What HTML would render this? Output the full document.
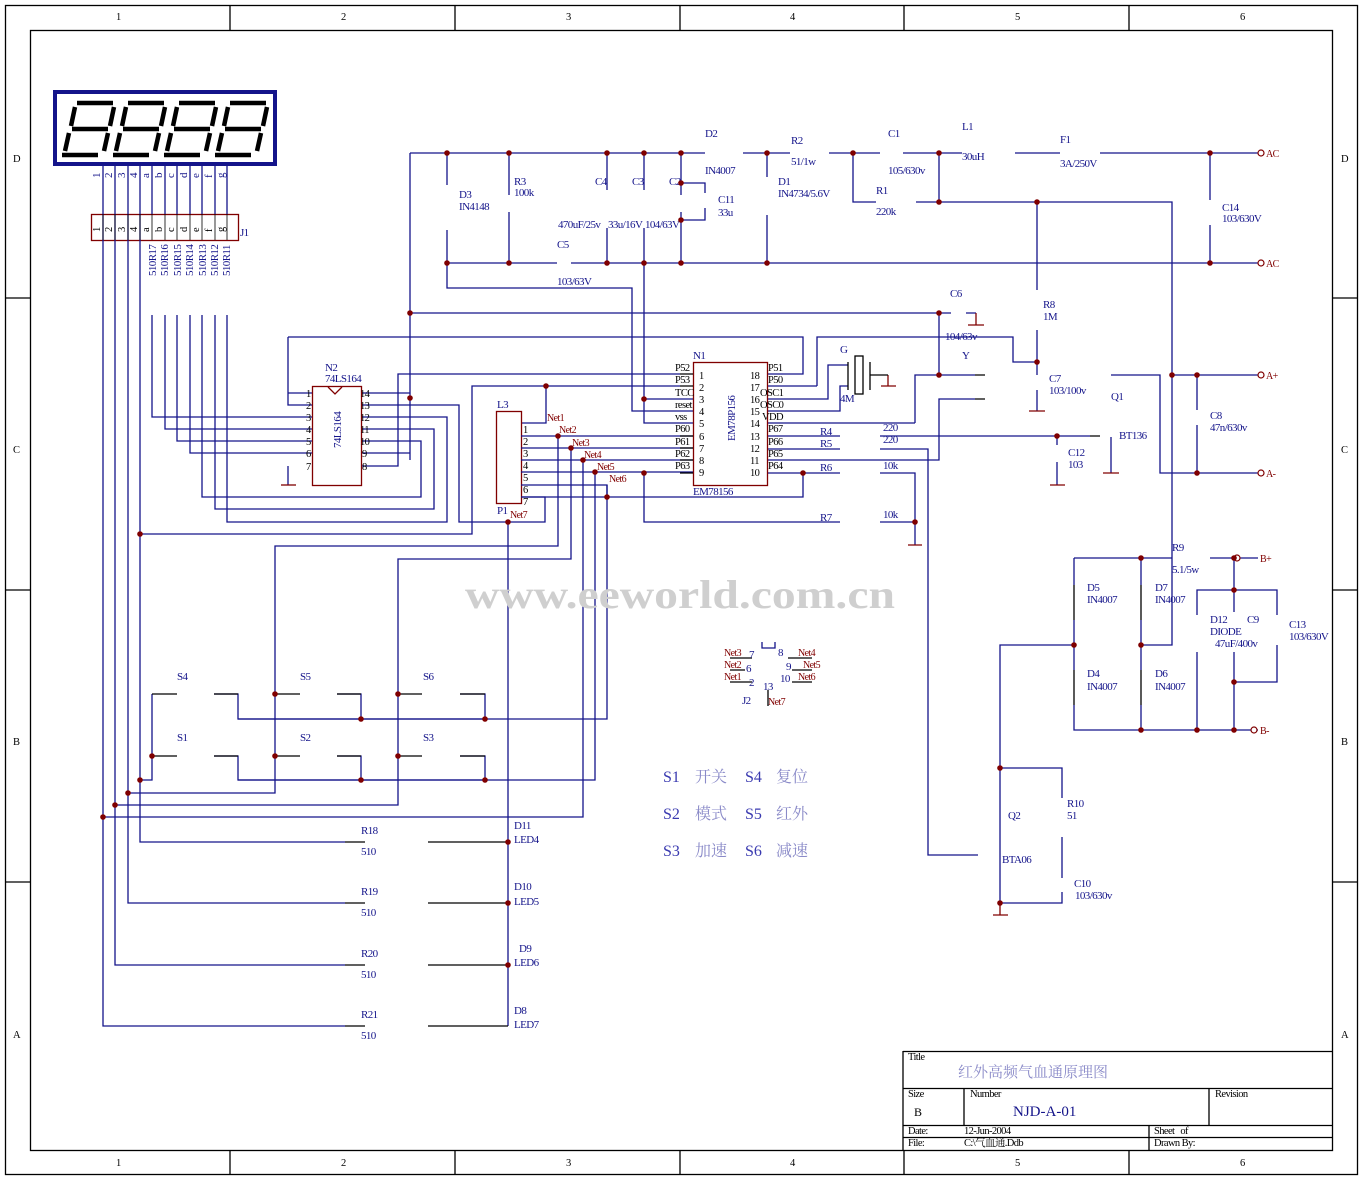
<!DOCTYPE html>
<html><head><meta charset="utf-8"><style>
html,body{margin:0;padding:0;background:#fff;}
svg{display:block;font-family:"Liberation Serif","Noto Serif CJK SC",serif;}
.b{stroke:#14148a;fill:none;stroke-width:1.3}
.k{stroke:#000;fill:none;stroke-width:1.3}
.r{stroke:#800000;fill:none;stroke-width:1.3}
.t{fill:#14148a;font-size:11px;letter-spacing:-0.6px}
.tr{fill:#800000;font-size:10px;letter-spacing:-0.6px}
.tk{fill:#000;font-size:10.5px;letter-spacing:-0.6px}
</style></head><body>
<svg width="1363" height="1183" viewBox="0 0 1363 1183" xmlns="http://www.w3.org/2000/svg">
<!-- frame -->
<rect x="5.5" y="5.5" width="1352" height="1169" class="k"/>
<rect x="30.5" y="30.5" width="1302" height="1120" class="k"/>
<g class="k">
<path d="M230 5V30M455 5V30M680 5V30M904 5V30M1129 5V30M230 1150V1175M455 1150V1175M680 1150V1175M904 1150V1175M1129 1150V1175"/>
<path d="M5 298H30M5 590H30M5 882H30M1332 298H1357M1332 590H1357M1332 882H1357"/>
</g>
<g class="tk" font-size="11">
<text x="116" y="20">1</text><text x="341" y="20">2</text><text x="566" y="20">3</text><text x="790" y="20">4</text><text x="1015" y="20">5</text><text x="1240" y="20">6</text>
<text x="116" y="1166">1</text><text x="341" y="1166">2</text><text x="566" y="1166">3</text><text x="790" y="1166">4</text><text x="1015" y="1166">5</text><text x="1240" y="1166">6</text>
<text x="13" y="162">D</text><text x="13" y="453">C</text><text x="13" y="745">B</text><text x="13" y="1038">A</text>
<text x="1341" y="162">D</text><text x="1341" y="453">C</text><text x="1341" y="745">B</text><text x="1341" y="1038">A</text>
</g>

<!-- display -->
<rect x="55" y="92" width="220" height="72" fill="none" stroke="#14148a" stroke-width="4"/>
<g stroke="#000" stroke-width="4.5" fill="none" stroke-linecap="butt">
<g id="dg"><path d="M77 103H113M72 129H108M62 155H98M75 107L71 126M114 107L110 126M69 133L65 151M108 133L104 151"/></g>
<use href="#dg" x="51"/><use href="#dg" x="102"/><use href="#dg" x="153"/>
</g>
<!-- J1 -->
<rect x="91.5" y="214.5" width="147" height="26" class="r"/>
<g class="b">
<path d="M103 166V1026H345M115 166V965H345M128 166V903H345M140 166V842H345"/>
<path d="M152 166V214M165 166V214M177 166V214M190 166V214M202 166V214M215 166V214M227 166V214"/>
<path d="M152 315V417H312M165 315V429H312M177 315V441H312M190 315V453H312"/>
<path d="M202 315V497H421V441H361M215 315V509H434V429H361M227 315V522H447V417H361"/>
<path d="M361 405H459V522H545V497H521"/>
<path d="M361 393H410M361 453H410M410 153V460"/>
<path d="M361 466H398V374H680"/>
<path d="M140 534H472V386H680M546 386V423H521"/>
<path d="M288 337V405H312M288 393H312M288 337H803V374H767"/>
<path d="M288 466V485"/>
</g>
<path d="M281 485H296" class="r"/>
<g class="t" font-size="9">
<g transform="translate(100,178) rotate(-90)"><text>1</text></g>
<g transform="translate(112,178) rotate(-90)"><text>2</text></g>
<g transform="translate(125,178) rotate(-90)"><text>3</text></g>
<g transform="translate(137,178) rotate(-90)"><text>4</text></g>
<g transform="translate(149,178) rotate(-90)"><text>a</text></g>
<g transform="translate(162,178) rotate(-90)"><text>b</text></g>
<g transform="translate(174,178) rotate(-90)"><text>c</text></g>
<g transform="translate(187,178) rotate(-90)"><text>d</text></g>
<g transform="translate(199,178) rotate(-90)"><text>e</text></g>
<g transform="translate(212,178) rotate(-90)"><text>f</text></g>
<g transform="translate(224,178) rotate(-90)"><text>g</text></g>
<g transform="translate(156,276) rotate(-90)"><text>510R17</text></g>
<g transform="translate(168,276) rotate(-90)"><text>510R16</text></g>
<g transform="translate(181,276) rotate(-90)"><text>510R15</text></g>
<g transform="translate(193,276) rotate(-90)"><text>510R14</text></g>
<g transform="translate(206,276) rotate(-90)"><text>510R13</text></g>
<g transform="translate(218,276) rotate(-90)"><text>510R12</text></g>
<g transform="translate(230,276) rotate(-90)"><text>510R11</text></g>
</g>
<g class="tk" font-size="9">
<g transform="translate(100,232) rotate(-90)"><text>1</text></g>
<g transform="translate(112,232) rotate(-90)"><text>2</text></g>
<g transform="translate(125,232) rotate(-90)"><text>3</text></g>
<g transform="translate(137,232) rotate(-90)"><text>4</text></g>
<g transform="translate(149,232) rotate(-90)"><text>a</text></g>
<g transform="translate(162,232) rotate(-90)"><text>b</text></g>
<g transform="translate(174,232) rotate(-90)"><text>c</text></g>
<g transform="translate(187,232) rotate(-90)"><text>d</text></g>
<g transform="translate(199,232) rotate(-90)"><text>e</text></g>
<g transform="translate(212,232) rotate(-90)"><text>f</text></g>
<g transform="translate(224,232) rotate(-90)"><text>g</text></g>
</g>
<g class="k">
<path d="M103 214V240M115 214V240M128 214V240M140 214V240M152 214V240M165 214V240M177 214V240M190 214V240M202 214V240M215 214V240M227 214V240" stroke-width="0.8"/>
</g>
<text x="240" y="236" class="t">J1</text>

<!-- N2 74LS164 -->
<rect x="312.5" y="386.5" width="49" height="99" class="r"/>
<path d="M328 387L335 394L342 387" class="r"/>
<text x="325" y="371" class="t">N2</text><text x="325" y="382" class="t">74LS164</text>
<g transform="translate(341,448) rotate(-90)"><text class="t">74LS164</text></g>
<g class="tk">
<text x="306" y="397">1</text><text x="306" y="409">2</text><text x="306" y="421">3</text><text x="306" y="433">4</text><text x="306" y="445">5</text><text x="306" y="457">6</text><text x="306" y="470">7</text>
<text x="360" y="397">14</text><text x="360" y="409">13</text><text x="360" y="421">12</text><text x="360" y="433">11</text><text x="360" y="445">10</text><text x="362" y="457">9</text><text x="362" y="470">8</text>
</g>

<!-- L3 P1 -->
<rect x="496.5" y="411.5" width="25" height="92" class="r"/>
<text x="497" y="408" class="t">L3</text><text x="497" y="514" class="t">P1</text>
<g class="tk"><text x="523" y="433">1</text><text x="523" y="445">2</text><text x="523" y="457">3</text><text x="523" y="469">4</text><text x="523" y="481">5</text><text x="523" y="493">6</text><text x="523" y="505">7</text></g>
<g class="tr"><text x="547" y="421">Net1</text><text x="559" y="433">Net2</text><text x="572" y="446">Net3</text><text x="584" y="458">Net4</text><text x="597" y="470">Net5</text><text x="609" y="482">Net6</text><text x="510" y="518">Net7</text></g>
<g class="b">
<path d="M521 436H693M521 448H693M521 460H693M521 472H693M521 485H607V497M521 497H803V473"/>
<path d="M558 436V546H275V793H128"/>
<path d="M571 448V559H398V805H115"/>
<path d="M583 460V817H103"/>
<path d="M607 485V719H238V694H214"/>
<path d="M595 472V780H238V756H214"/>
<path d="M152 694V780H140"/>
<path d="M238 719H485V694H460M361 719V694H337"/>
<path d="M238 780H485V756H460M361 780V756H337"/>
<path d="M508 522V1026"/>
</g>
<g class="k"><path d="M152 694H177M152 756H177M275 694H300M275 756H300M398 694H422M398 756H422M214 694H238M214 756H238M337 694H361M337 756H361M460 694H485M460 756H485"/>
<path d="M345 842H365M428 842H447M345 903H365M428 903H447M345 965H365M428 965H447M345 1026H365M428 1026H447"/>
<path d="M447 842H508M447 903H508M447 965H508M447 1026H508"/></g>
<g class="t">
<text x="177" y="680">S4</text><text x="300" y="680">S5</text><text x="423" y="680">S6</text>
<text x="177" y="741">S1</text><text x="300" y="741">S2</text><text x="423" y="741">S3</text>
<text x="361" y="834">R18</text><text x="361" y="855">510</text>
<text x="361" y="895">R19</text><text x="361" y="916">510</text>
<text x="361" y="957">R20</text><text x="361" y="978">510</text>
<text x="361" y="1018">R21</text><text x="361" y="1039">510</text>
<text x="514" y="829">D11</text><text x="514" y="843">LED4</text>
<text x="514" y="890">D10</text><text x="514" y="905">LED5</text>
<text x="519" y="952">D9</text><text x="514" y="966">LED6</text>
<text x="514" y="1014">D8</text><text x="514" y="1028">LED7</text>
</g>

<!-- top supply -->
<g class="b">
<path d="M410 153H705M743 153H790M829 153H880M903 153H962M1015 153H1060M1100 153H1258"/>
<path d="M447 263H557M571 263H1258"/>
<path d="M447 153V185M447 230V288H632V411H693"/>
<path d="M509 153V195M509 212V263"/>
<path d="M607 153V190M607 228V263"/>
<path d="M644 153V190M644 228V423H693M644 399H693"/>
<path d="M681 153V195M681 212V263M681 183H705V193M705 208V220H681"/>
<path d="M767 153V177M767 215V263"/>
<path d="M853 153V202H876M916 202H1172V645H1141"/>
<path d="M939 153V202"/>
<path d="M1210 153V200M1210 225V263"/>
<path d="M410 313H951M966 313H976"/>
<path d="M939 313V375H975M915 423V375H939"/>
<path d="M817 386V337H1013V362H1037M1037 202V290M1037 330V375M1037 390V411"/>
<path d="M767 386H817M767 399H828V365H848M767 411H840V386H848M767 423H915"/>
<path d="M767 436H840M880 436H1090M767 449H840M880 449H928V855H978"/>
<path d="M767 460H939V399H975"/>
<path d="M767 473H840M880 473H915V545M644 473V522H840M880 522H915"/>
<path d="M1057 436V445M1057 462V485M1111 437V473"/>
<path d="M1111 375H1160V473H1258M1172 375H1258M1197 375V410M1197 425V473"/>
<path d="M1074 558H1172M1210 558H1258M1234 558V590H1197V615M1197 652V730M1234 590V612M1234 652V730M1234 590H1277V615M1277 645V682H1234"/>
<path d="M1074 558V585M1074 620V670M1074 705V730H1258M1141 558V585M1141 620V670M1141 705V730"/>
<path d="M1074 645H1000V903M1000 768H1062V798M1062 837V878M1062 892V903H1000"/>
</g>
<g class="k"><path d="M1074 585V620M1074 670V705M1141 585V620M1141 670V705M975 375H985M975 399H985M1090 436H1100"/></g>
<g class="r"><path d="M968 325H984M976 313V325M881 386H896M888 375V386M1029 411H1045M1050 485H1065M1103 473H1119M993 915H1008M1000 903V915M908 545H922"/></g>
<!-- crystal -->
<g class="k"><path d="M848 362V390M870 362V390M870 375H888"/><rect x="855" y="356" width="8" height="38"/></g>
<!-- terminals -->
<g fill="#fff" stroke="#800000" stroke-width="1.2"><circle cx="1261" cy="153" r="3"/><circle cx="1261" cy="263" r="3"/><circle cx="1261" cy="375" r="3"/><circle cx="1261" cy="473" r="3"/><circle cx="1237" cy="558" r="3"/><circle cx="1254" cy="730" r="3"/></g>
<g class="tr" font-size="11"><text x="1266" y="157">AC</text><text x="1266" y="267">AC</text><text x="1266" y="379">A+</text><text x="1266" y="477">A-</text><text x="1260" y="562">B+</text><text x="1260" y="734">B-</text></g>

<!-- N1 -->
<rect x="693.5" y="362.5" width="74" height="123" class="r"/>
<text x="693" y="359" class="t">N1</text><text x="693" y="495" class="t">EM78156</text>
<g transform="translate(735,441) rotate(-90)"><text class="t">EM78P156</text></g>
<g class="k"><path d="M680 374H693M680 386H693M680 436H693M680 448H693M680 460H693M680 473H693"/></g>
<g class="tk">
<text x="675" y="371">P52</text><text x="675" y="383">P53</text><text x="675" y="396">TCC</text><text x="675" y="408">reset</text><text x="675" y="420">vss</text><text x="675" y="432">P60</text><text x="675" y="445">P61</text><text x="675" y="457">P62</text><text x="675" y="469">P63</text>
<text x="699" y="379">1</text><text x="699" y="391">2</text><text x="699" y="403">3</text><text x="699" y="415">4</text><text x="699" y="427">5</text><text x="699" y="440">6</text><text x="699" y="452">7</text><text x="699" y="464">8</text><text x="699" y="476">9</text>
<text x="750" y="379">18</text><text x="750" y="391">17</text><text x="750" y="403">16</text><text x="750" y="415">15</text><text x="750" y="427">14</text><text x="750" y="440">13</text><text x="750" y="452">12</text><text x="750" y="464">11</text><text x="750" y="476">10</text>
<text x="768" y="371">P51</text><text x="768" y="383">P50</text><text x="760" y="396">OSC1</text><text x="760" y="408">OSC0</text><text x="762" y="420">VDD</text><text x="768" y="432">P67</text><text x="768" y="445">P66</text><text x="768" y="457">P65</text><text x="768" y="469">P64</text>
</g>

<g class="t">
<text x="459" y="198">D3</text><text x="459" y="210">IN4148</text>
<text x="514" y="185">R3</text><text x="514" y="196">100k</text>
<text x="595" y="185">C4</text><text x="632" y="185">C3</text><text x="669" y="185">C2</text>
<text x="558" y="228">470uF/25v</text><text x="608" y="228">33u/16V</text><text x="645" y="228">104/63V</text>
<text x="557" y="248">C5</text><text x="557" y="285">103/63V</text>
<text x="718" y="203">C11</text><text x="718" y="216">33u</text>
<text x="705" y="137">D2</text><text x="705" y="174">IN4007</text>
<text x="778" y="185">D1</text><text x="778" y="197">IN4734/5.6V</text>
<text x="791" y="144">R2</text><text x="791" y="165">51/1w</text>
<text x="888" y="137">C1</text><text x="888" y="174">105/630v</text>
<text x="876" y="194">R1</text><text x="876" y="215">220k</text>
<text x="962" y="130">L1</text><text x="962" y="160">30uH</text>
<text x="1060" y="143">F1</text><text x="1060" y="167">3A/250V</text>
<text x="1222" y="211">C14</text><text x="1222" y="222">103/630V</text>
<text x="950" y="297">C6</text><text x="945" y="340">104/63v</text>
<text x="962" y="359">Y</text>
<text x="840" y="353">G</text><text x="840" y="402">4M</text>
<text x="1043" y="308">R8</text><text x="1043" y="320">1M</text>
<text x="1049" y="382">C7</text><text x="1049" y="394">103/100v</text>
<text x="1111" y="400">Q1</text><text x="1119" y="439">BT136</text>
<text x="1068" y="456">C12</text><text x="1068" y="468">103</text>
<text x="1210" y="419">C8</text><text x="1210" y="431">47n/630v</text>
<text x="820" y="435">R4</text><text x="820" y="447">R5</text><text x="820" y="471">R6</text><text x="820" y="521">R7</text>
<text x="883" y="431">220</text><text x="883" y="443">220</text><text x="883" y="469">10k</text><text x="883" y="518">10k</text>
<text x="1172" y="551">R9</text><text x="1172" y="573">5.1/5w</text>
<text x="1087" y="591">D5</text><text x="1087" y="603">IN4007</text>
<text x="1155" y="591">D7</text><text x="1155" y="603">IN4007</text>
<text x="1087" y="677">D4</text><text x="1087" y="690">IN4007</text>
<text x="1155" y="677">D6</text><text x="1155" y="690">IN4007</text>
<text x="1210" y="623">D12</text><text x="1210" y="635">DIODE</text><text x="1215" y="647">47uF/400v</text>
<text x="1247" y="623">C9</text>
<text x="1289" y="628">C13</text><text x="1289" y="640">103/630V</text>
<text x="1067" y="807">R10</text><text x="1067" y="819">51</text>
<text x="1008" y="819">Q2</text><text x="1002" y="863">BTA06</text>
<text x="1074" y="887">C10</text><text x="1075" y="899">103/630v</text>
</g>

<!-- J2 -->
<path d="M762 642V648H775V642" class="b"/>
<g class="k"><path d="M730 658H752M730 670H745M730 682H752M788 658H812M792 670H812M792 682H812M768 690V706"/></g>
<g class="tr" font-size="8"><text x="724" y="656">Net3</text><text x="724" y="668">Net2</text><text x="724" y="680">Net1</text><text x="798" y="656">Net4</text><text x="803" y="668">Net5</text><text x="798" y="680">Net6</text><text x="768" y="705">Net7</text></g>
<g class="t"><text x="749" y="658">7</text><text x="746" y="672">6</text><text x="749" y="686">2</text><text x="778" y="656">8</text><text x="786" y="670">9</text><text x="780" y="682">10</text><text x="763" y="690">13</text><text x="742" y="704">J2</text></g>

<!-- watermark -->
<text x="465" y="608" font-size="40" font-weight="bold" fill="#cfcfcf" textLength="430" lengthAdjust="spacingAndGlyphs">www.eeworld.com.cn</text>

<!-- legend -->
<g font-family="Liberation Serif,'Noto Serif CJK SC',serif" font-size="16" fill="#3a3ab0">
<text x="663" y="782">S1</text><text x="695" y="782" fill="#8a8ac8">开关</text><text x="745" y="782">S4</text><text x="776" y="782" fill="#8a8ac8">复位</text>
<text x="663" y="819">S2</text><text x="695" y="819" fill="#8a8ac8">模式</text><text x="745" y="819">S5</text><text x="776" y="819" fill="#8a8ac8">红外</text>
<text x="663" y="856">S3</text><text x="695" y="856" fill="#8a8ac8">加速</text><text x="745" y="856">S6</text><text x="776" y="856" fill="#8a8ac8">减速</text>
</g>

<!-- dots -->
<g fill="#800000">
<circle cx="410" cy="313" r="2.8"/><circle cx="410" cy="398" r="2.8"/><circle cx="447" cy="153" r="2.8"/><circle cx="509" cy="153" r="2.8"/><circle cx="607" cy="153" r="2.8"/><circle cx="644" cy="153" r="2.8"/><circle cx="681" cy="153" r="2.8"/><circle cx="767" cy="153" r="2.8"/><circle cx="853" cy="153" r="2.8"/><circle cx="939" cy="153" r="2.8"/><circle cx="1210" cy="153" r="2.8"/>
<circle cx="447" cy="263" r="2.8"/><circle cx="509" cy="263" r="2.8"/><circle cx="607" cy="263" r="2.8"/><circle cx="644" cy="263" r="2.8"/><circle cx="681" cy="263" r="2.8"/><circle cx="767" cy="263" r="2.8"/><circle cx="1210" cy="263" r="2.8"/>
<circle cx="681" cy="183" r="2.8"/><circle cx="681" cy="220" r="2.8"/><circle cx="939" cy="202" r="2.8"/><circle cx="1037" cy="202" r="2.8"/>
<circle cx="939" cy="313" r="2.8"/><circle cx="939" cy="375" r="2.8"/><circle cx="1037" cy="362" r="2.8"/><circle cx="644" cy="399" r="2.8"/>
<circle cx="546" cy="386" r="2.8"/><circle cx="558" cy="436" r="2.8"/><circle cx="571" cy="448" r="2.8"/><circle cx="583" cy="460" r="2.8"/><circle cx="595" cy="472" r="2.8"/><circle cx="607" cy="497" r="2.8"/><circle cx="508" cy="522" r="2.8"/><circle cx="644" cy="473" r="2.8"/><circle cx="803" cy="473" r="2.8"/><circle cx="915" cy="522" r="2.8"/><circle cx="1057" cy="436" r="2.8"/>
<circle cx="140" cy="534" r="2.8"/><circle cx="275" cy="694" r="2.8"/><circle cx="398" cy="694" r="2.8"/><circle cx="361" cy="719" r="2.8"/><circle cx="485" cy="719" r="2.8"/><circle cx="152" cy="756" r="2.8"/><circle cx="275" cy="756" r="2.8"/><circle cx="398" cy="756" r="2.8"/><circle cx="361" cy="780" r="2.8"/><circle cx="485" cy="780" r="2.8"/><circle cx="140" cy="780" r="2.8"/><circle cx="128" cy="793" r="2.8"/><circle cx="115" cy="805" r="2.8"/><circle cx="103" cy="817" r="2.8"/>
<circle cx="508" cy="842" r="2.8"/><circle cx="508" cy="903" r="2.8"/><circle cx="508" cy="965" r="2.8"/>
<circle cx="1172" cy="375" r="2.8"/><circle cx="1197" cy="375" r="2.8"/><circle cx="1197" cy="473" r="2.8"/>
<circle cx="1141" cy="558" r="2.8"/><circle cx="1234" cy="558" r="2.8"/><circle cx="1234" cy="590" r="2.8"/><circle cx="1074" cy="645" r="2.8"/><circle cx="1141" cy="645" r="2.8"/><circle cx="1234" cy="682" r="2.8"/><circle cx="1141" cy="730" r="2.8"/><circle cx="1197" cy="730" r="2.8"/><circle cx="1234" cy="730" r="2.8"/>
<circle cx="1000" cy="768" r="2.8"/><circle cx="1000" cy="903" r="2.8"/>
</g>

<!-- title block -->
<g class="k">
<path d="M903 1051.5H1332M903 1088.5H1332M903 1125.5H1332M903 1137.5H1332M903 1051V1150M964 1088V1125M1209 1088V1125M1149 1125V1150"/>
</g>
<g class="tk">
<text x="908" y="1060">Title</text>
<text x="908" y="1097">Size</text><text x="914" y="1116" font-size="12">B</text>
<text x="970" y="1097">Number</text><text x="1215" y="1097">Revision</text>
<text x="908" y="1134">Date:</text><text x="964" y="1134">12-Jun-2004</text><text x="1154" y="1134">Sheet&#160;&#160;&#160;of</text>
<text x="908" y="1146">File:</text><text x="964" y="1146">C:\气血通.Ddb</text><text x="1154" y="1146">Drawn By:</text>
</g>
<text x="958" y="1077" font-size="15" fill="#8a8ac8" font-family="'Noto Serif CJK SC',serif">红外高频气血通原理图</text>
<text x="1013" y="1116" font-size="15" fill="#14148a">NJD-A-01</text>
</svg>
</body></html>
